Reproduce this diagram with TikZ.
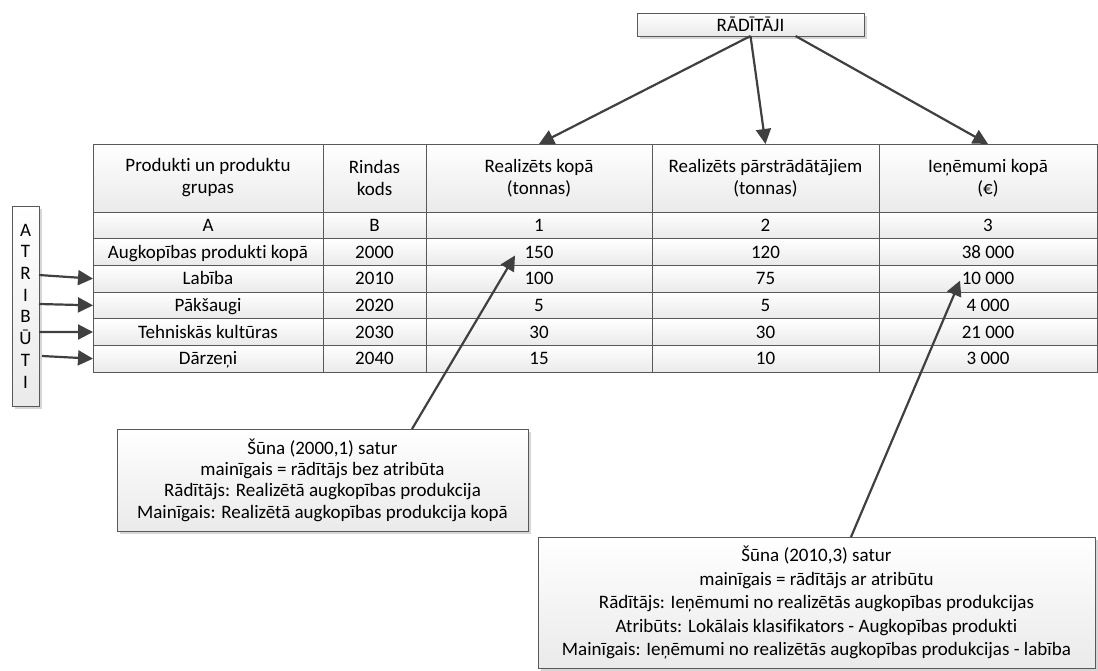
\documentclass[tikz,border=0pt]{standalone}
\usepackage{fontspec}
\setmainfont{Carlito}[Ligatures=NoCommon]
\usetikzlibrary{arrows.meta,shadows}
\definecolor{edge}{HTML}{595959}
\definecolor{arrowc}{HTML}{404040}
\definecolor{cellbot}{HTML}{EAEAEA}
\definecolor{shade}{HTML}{D6D6D6}
\tikzset{
  every node/.style={font=\fontsize{19}{22}\selectfont},
  cell/.style={draw=edge, line width=1pt, top color=white, bottom color=cellbot,
    inner sep=0pt, outer sep=0pt, anchor=north west, align=center},
  rowcell/.style={cell, minimum height=26.67pt, text height=14.5pt, text depth=2.5pt},
  box/.style={draw=edge, line width=1pt, top color=white, bottom color=cellbot,
    inner sep=0pt, outer sep=0pt, align=center,
    drop shadow={shadow xshift=3pt, shadow yshift=-3pt, fill=shade, opacity=1}},
  link/.style={draw=arrowc, line width=2.2pt, -{Triangle[length=15pt,width=15pt]}},
}
\begin{document}
\begin{tikzpicture}[x=1pt,y=-1pt]
\useasboundingbox (0,0) rectangle (1098,670);

% shadow under the table
\fill[shade] (96,147) rectangle (1101,375.5);

% table header
\node[cell, minimum width=230pt, minimum height=68pt] (h1) at (93,144) {Produkti un produktu\\grupas};
\node[cell, minimum width=103pt, minimum height=68pt] (h2) at (323,144) {Rindas\\kods};
\node[cell, minimum width=226pt, minimum height=68pt] (h3) at (426,144) {Realizēts kopā\\(tonnas)};
\node[cell, minimum width=227pt, minimum height=68pt] (h4) at (652,144) {Realizēts pārstrādātājiem\\(tonnas)};
\node[cell, minimum width=218pt, minimum height=68pt] (h5) at (879,144) {Ieņēmumi kopā\\(€)};

% table body
\foreach \n/\y/\ta/\tb/\tc/\td/\te in {
  0/212/A/B/1/2/3,
  1/238.67/Augkopības produkti kopā/2000/150/120/38 000,
  2/265.33/Labība/2010/100/75/10 000,
  3/292/Pākšaugi/2020/5/5/4 000,
  4/318.67/Tehniskās kultūras/2030/30/30/21 000,
  5/345.33/Dārzeņi/2040/15/10/3 000}
{
  \node[rowcell, minimum width=230pt] (c\n-1) at (93,\y) {\ta};
  \node[rowcell, minimum width=103pt] (c\n-2) at (323,\y) {\tb};
  \node[rowcell, minimum width=226pt] (c\n-3) at (426,\y) {\tc};
  \node[rowcell, minimum width=227pt] (c\n-4) at (652,\y) {\td};
  \node[rowcell, minimum width=218pt] (c\n-5) at (879,\y) {\te};
}

% labelled boxes
\node[box, minimum width=227pt, minimum height=23pt] (rad) at (750.5,24.5) {RĀDĪTĀJI};
\node[box, minimum width=27pt, minimum height=200pt, font=\fontsize{19}{21.7}\selectfont]
  (atr) at (25.5,306) {A\\T\\R\\I\\B\\Ū\\T\\I};
\node[box, minimum width=411pt, minimum height=102pt, font=\fontsize{19}{21.3}\selectfont]
  (call1) at (322.5,480) {Šūna (2000,1) satur\\mainīgais = rādītājs bez atribūta\\Rādītājs: Realizētā augkopības produkcija\\Mainīgais: Realizētā augkopības produkcija kopā};
\node[box, minimum width=557pt, minimum height=131pt, font=\fontsize{19}{23.5}\selectfont]
  (call2) at (816.5,602.5) {Šūna (2010,3) satur\\mainīgais = rādītājs ar atribūtu\\Rādītājs: Ieņēmumi no realizētās augkopības produkcijas\\Atribūts: Lokālais klasifikators - Augkopības produkti\\Mainīgais: Ieņēmumi no realizētās augkopības produkcijas - labība};

% indicators point to the value columns
\draw[link] (rad.south) -- (h3.north);
\draw[link] (rad.south) -- (h4.north);
\draw[link] ([xshift=45pt]rad.south) -- (h5.north);

% attributes point to the product rows
\draw[link] ([yshift=31pt]atr.east) -- (c2-1.west);
\draw[link] ([yshift=2pt]atr.east) -- (c3-1.west);
\draw[link] ([yshift=-26pt]atr.east) -- (c4-1.west);
\draw[link] ([xshift=3pt,yshift=-50pt]atr.east) -- (c5-1.west);

% callouts point to their cells
\draw[link] ([xshift=89.5pt]call1.north) -- ([xshift=-24pt,yshift=-3.5pt]c1-3.center);
\draw[link] ([xshift=34.5pt]call2.north) -- ([xshift=-28pt,yshift=-2pt]c2-5.center);
\end{tikzpicture}
\end{document}
